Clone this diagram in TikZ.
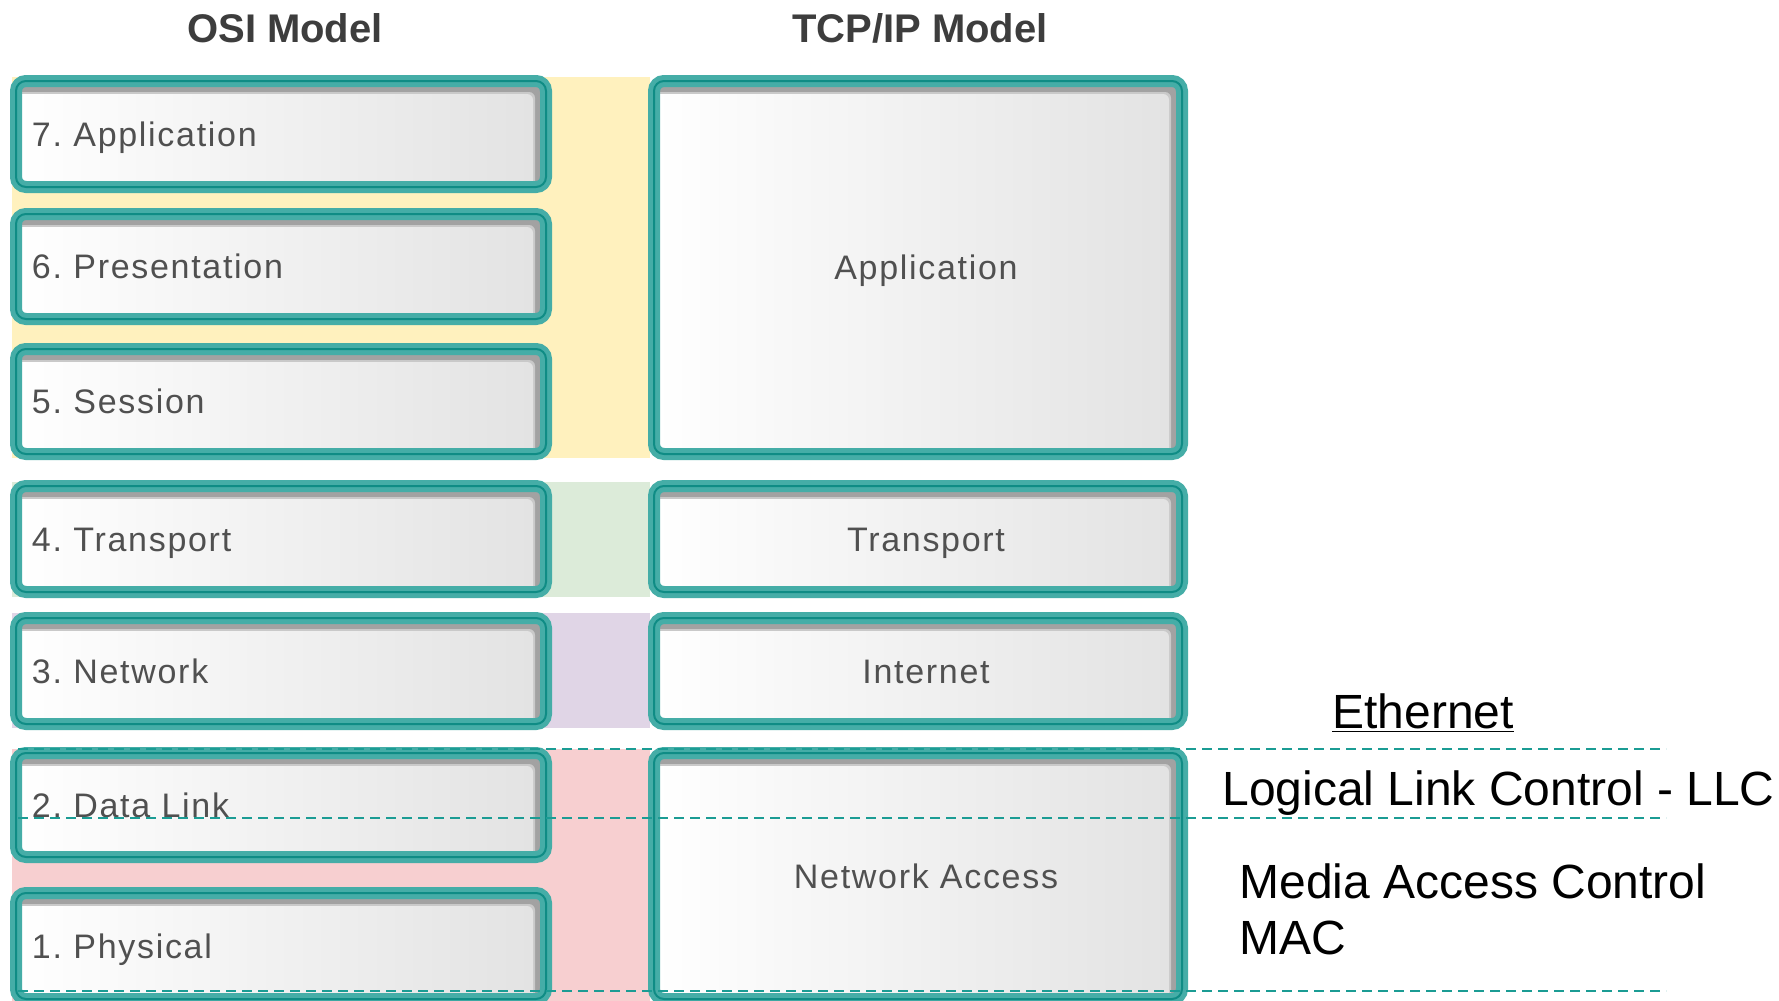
\documentclass[tikz,border=0pt]{standalone}
\usepackage{fontspec}
\setmainfont{Liberation Sans}
\newfontfamily\boxfont[LetterSpace=5]{Liberation Sans}
\usetikzlibrary{calc}
\frenchspacing
\definecolor{tealL}{HTML}{45ADA7}
\definecolor{tealD}{HTML}{0F8C85}
\definecolor{shadowG}{HTML}{A2A2A2}
\definecolor{shadowL}{HTML}{C9C9C9}
\definecolor{faceR}{HTML}{E3E3E3}
\definecolor{bandY}{HTML}{FFF1BE}
\definecolor{bandG}{HTML}{DCEBD9}
\definecolor{bandP}{HTML}{E0D5E6}
\definecolor{bandR}{HTML}{F7CFD0}
\definecolor{dashT}{HTML}{1B9C94}
\definecolor{titleC}{HTML}{3D3D3D}
\definecolor{labelC}{HTML}{505050}
\tikzset{
  layerbox/.style={rectangle, rounded corners=5pt, draw=tealL, line width=6pt,
    postaction={draw=tealD, line width=1pt},
    path picture={
      \fill[shadowG] (path picture bounding box.south west) rectangle (path picture bounding box.north east);
      \fill[shadowL, rounded corners=3pt] ($(path picture bounding box.north west)+(0pt,-5.5pt)$) rectangle ($(path picture bounding box.south east)+(-5.5pt,0pt)$);
      \shade[left color=white, right color=faceR, rounded corners=3pt] ($(path picture bounding box.north west)+(0pt,-6.5pt)$) rectangle ($(path picture bounding box.south east)+(-6.5pt,0pt)$);
    },
    font=\boxfont\fontsize{17pt}{20pt}\selectfont, text=labelC, text height=12.2pt, text depth=0pt},
  osibox/.style={layerbox, minimum width=265pt, text width=249pt, align=left, inner xsep=8pt, inner ysep=0pt},
  tcpbox/.style={layerbox, minimum width=264pt, align=center, inner sep=0pt},
  titletext/.style={font=\bfseries\fontsize{20pt}{24pt}\selectfont, text=titleC, inner sep=0pt},
  sidetext/.style={font=\fontsize{24pt}{29pt}\selectfont, text=black, inner sep=0pt},
  dashline/.style={draw=dashT, line width=1pt, dash pattern=on 5pt off 3pt}
}
\begin{document}
\begin{tikzpicture}[x=0.5pt,y=-0.5pt]
\useasboundingbox (0,0) rectangle (1779,1001);
\clip (0,0) rectangle (1779,1001);
\fill[white] (0,0) rectangle (1779,1001);
% colour bands
\fill[bandY] (12,77) rectangle (650,458);
\fill[bandG] (12,482) rectangle (650,597);
\fill[bandP] (12,613) rectangle (650,728);
\fill[bandR] (12,749) rectangle (650,1001);
% titles
\node[titletext, anchor=base] (osititle) at (285,42) {OSI Model};
\node[titletext, anchor=base] (tcptitle) at (920,42) {TCP/IP Model};
% OSI layers
\node[osibox, minimum height=53pt]   (osi7) at (281,134)   {7. Application};
\node[osibox, minimum height=52.5pt] (osi6) at (281,266.5) {6. Presentation};
\node[osibox, minimum height=52.5pt] (osi5) at (281,401.5) {5. Session};
\node[osibox, minimum height=53pt]   (osi4) at (281,539)   {4. Transport};
\node[osibox, minimum height=53pt]   (osi3) at (281,671)   {3. Network};
\node[osibox, minimum height=52pt]   (osi2) at (281,805)   {2. Data Link};
\node[osibox, minimum height=53pt]   (osi1) at (281,946)   {1. Physical};
% TCP/IP layers
\node[tcpbox, minimum height=186.5pt] (tcpapp) at (918,267.5) {\hspace*{8pt}Application};
\node[tcpbox, minimum height=53pt]    (tcptr)  at (918,539)   {\hspace*{8pt}Transport};
\node[tcpbox, minimum height=53pt]    (tcpin)  at (918,671)   {\hspace*{8pt}Internet};
\node[tcpbox, minimum height=123pt]   (tcpna)  at (918,876)   {\hspace*{8pt}Network Access};
% side texts
\node[sidetext, anchor=base] (eth) at (1423,728) {\underline{Ethernet}};
\node[sidetext, anchor=base west] (llc) at (1222,805) {Logical Link Control - LLC};
\node[sidetext, anchor=base west] (mac1) at (1239,898) {Media Access Control};
\node[sidetext, anchor=base west] (mac2) at (1239,954) {MAC};
% dashed separators
\coordinate (dA1) at (18,749);  \coordinate (dA2) at (1666,749);
\coordinate (dB1) at (18,818);  \coordinate (dB2) at (1666,818);
\coordinate (dC1) at (18,991);  \coordinate (dC2) at (1666,991);
\draw[dashline] (dA1) -- (dA2);
\draw[dashline] (dB1) -- (dB2);
\draw[dashline] (dC1) -- (dC2);
\end{tikzpicture}
\end{document}
